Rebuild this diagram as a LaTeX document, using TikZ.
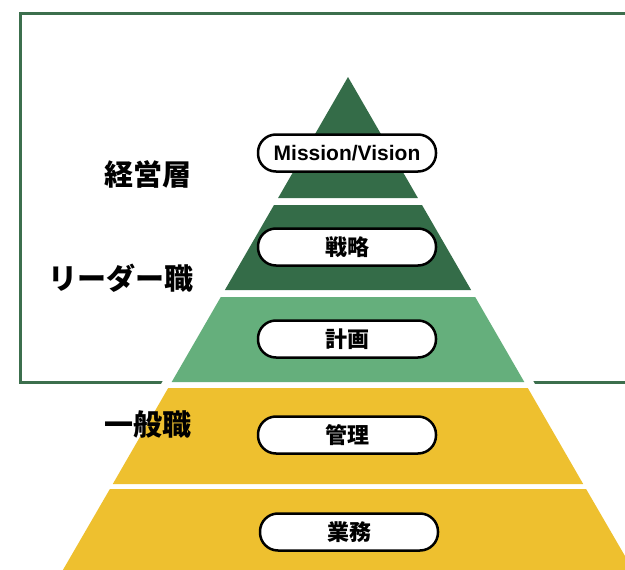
\documentclass[tikz,border=0pt]{standalone}
\usepackage{fontspec}
\setmainfont{Liberation Sans}
\newfontfamily\cjk{Noto Sans CJK JP}
\usepackage{tikz}

\definecolor{darkleaf}{HTML}{346C48}
\definecolor{lightleaf}{HTML}{65AF7C}
\definecolor{mustard}{HTML}{EEC02F}
\definecolor{framegreen}{HTML}{3C6F4D}

\tikzset{
  pill/.style={draw=black, line width=2.5pt, fill=white, rounded corners=18pt,
    minimum width=178pt, minimum height=37pt, inner sep=0pt, font=\cjk\bfseries\fontsize{22}{22}\selectfont},
  rank/.style={inner sep=0pt, font=\cjk\bfseries\fontsize{29}{29}\selectfont}
}

\begin{document}
\begin{tikzpicture}[x=1pt,y=1pt]
\useasboundingbox (0,0) rectangle (625,-570);
\clip (0,0) rectangle (625,-570);
% frame
\draw [framegreen, line width=3pt] (20,-13) rectangle (660,-382);
% white margin round the pyramid
\fill [white] (348,-60) -- (48,-580) -- (648,-580) -- cycle;
% layers
\fill [darkleaf] (348,-77) -- (278.1,-198) -- (417.9,-198) -- cycle;
\fill [darkleaf] (274,-205) -- (224.9,-290) -- (471.1,-290) -- (422,-205) -- cycle;
\fill [lightleaf] (220.8,-297) -- (171.7,-382) -- (524.3,-382) -- (475.2,-297) -- cycle;
\fill [mustard] (168.2,-388) -- (112.8,-484) -- (583.2,-484) -- (527.8,-388) -- cycle;
\fill [mustard] (109.9,-489) -- (60,-575) -- (636,-575) -- (586.1,-489) -- cycle;
% pills
\node [pill, font=\bfseries\fontsize{21}{21}\selectfont] (mission) at (347,-153) {Mission/Vision};
\node [pill] (senryaku) at (347,-247) {戦略};
\node [pill] (keikaku) at (347,-339) {計画};
\node [pill] (kanri) at (347,-435) {管理};
\node [pill] (gyomu) at (349,-532) {業務};
% ranks
\node [rank] (keiei) at (148,-174) {経営層};
\node [rank] (leader) at (121,-278) {リーダー職};
\node [rank] (ippan) at (148,-424) {一般職};
\end{tikzpicture}
\end{document}
